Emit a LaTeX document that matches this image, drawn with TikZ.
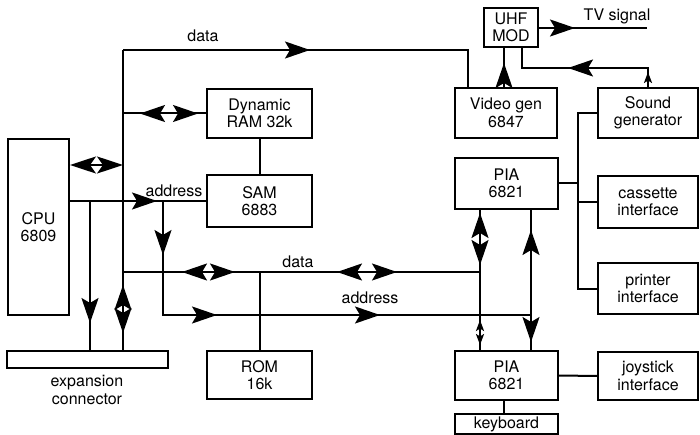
\documentclass[tikz,border=0pt]{standalone}
\usepackage{fontspec}
\setmainfont{TeX Gyre Heros}
\usetikzlibrary{arrows.meta,decorations.markings,calc}

\tikzset{
  BigTip/.tip={Stealth[length=25pt,width=17pt,inset=5pt]},
  CpuTip/.tip={Stealth[length=26pt,width=17pt,inset=6pt]},
  SmallTip/.tip={Stealth[length=11pt,width=8pt,inset=2.5pt]},
  blk/.style={draw, line width=2pt, inner sep=0pt, align=center,
    font=\fontsize{16}{17.5}\selectfont},
  lbl/.style={inner sep=0pt, font=\fontsize{16}{17.5}\selectfont},
  wire/.style={line width=2pt},
  fwd/.style={postaction={decorate,decoration={markings,
    mark=at position #1 with {\arrow{BigTip}}}}},
  rev/.style={postaction={decorate,decoration={markings,
    mark=at position #1 with {\arrowreversed{BigTip}}}}},
  sfwd/.style={postaction={decorate,decoration={markings,
    mark=at position #1 with {\arrow{SmallTip}}}}},
  srev/.style={postaction={decorate,decoration={markings,
    mark=at position #1 with {\arrowreversed{SmallTip}}}}},
}

\begin{document}
\begin{tikzpicture}[x=1pt,y=-1pt]
\useasboundingbox (0,0) rectangle (700,435);

% ---- blocks ----
\node[blk, minimum width=61pt,  minimum height=176pt] (cpu) at (38.5,227)  {CPU\\6809};
\node[blk, minimum width=105pt, minimum height=49pt]  (ram) at (259.5,113.5) {Dynamic\\RAM 32k};
\node[blk, minimum width=105pt, minimum height=52pt]  (sam) at (259.5,201)  {SAM\\6883};
\node[blk, minimum width=105pt, minimum height=48pt]  (rom) at (259.5,375)  {ROM\\16k};
\node[blk, minimum width=161pt, minimum height=17pt]  (exp) at (87.5,359.5) {};
\node[blk, minimum width=54pt,  minimum height=39pt]  (uhf) at (511,27.5)   {UHF\\MOD};
\node[blk, minimum width=102pt, minimum height=50pt]  (vid) at (506,113)    {Video gen\\6847};
\node[blk, minimum width=100pt, minimum height=50pt]  (snd) at (648,113)    {Sound\\generator};
\node[blk, minimum width=103pt, minimum height=51pt]  (pia1) at (506.5,183.5) {PIA\\6821};
\node[blk, minimum width=100pt, minimum height=52pt]  (cas) at (648,202)    {cassette\\interface};
\node[blk, minimum width=100pt, minimum height=51pt]  (prn) at (648,288.5)  {printer\\interface};
\node[blk, minimum width=103pt, minimum height=49pt]  (pia2) at (506.5,375.5) {PIA\\6821};
\node[blk, minimum width=100pt, minimum height=48pt]  (joy) at (648,376)    {joystick\\interface};
\node[blk, minimum width=103pt, minimum height=20pt]  (kbd) at (506.5,424)  {keyboard};

% ---- labels ----
\node[lbl, anchor=base] (l1) at (203,42)  {data};
\node[lbl, anchor=base] (l2) at (174,197) {address};
\node[lbl, anchor=base] (l3) at (298,267) {data};
\node[lbl, anchor=base] (l4) at (370,303) {address};
\node[lbl, anchor=base] (l5) at (617,21)  {TV signal};
\node[lbl, align=center] (l6) at (87,390) {expansion\\connector};

% ---- junction points ----
\coordinate (bt)   at (123,50);   % top of the CPU bus
\coordinate (c1)   at (123,165);  % CPU data tap
\coordinate (j90)  at (90,201);
\coordinate (j163) at (163,201);
\coordinate (ad2)  at (531,315);  % end of lower address bus
\coordinate (d0)   at (123,272);
\coordinate (d1)   at (480,272);  % end of lower data bus
\coordinate (vtop) at (468,88);
\coordinate (kx)   at (504,0);
\coordinate (rbx)  at (578,0);
\coordinate (ux)   at (522,68);
\coordinate (tv)   at (647,28);

% ---- CPU side ----
\draw[wire, fwd=187pt] (bt) -| (vtop);
\draw[wire, rev=235pt, fwd=283pt] (bt) -- (bt |- exp.north);
\draw[wire, {CpuTip}-{CpuTip}] (c1 -| cpu.east) -- (c1);
\draw[wire, rev=17pt, fwd=75pt] (bt |- ram.west) -- (ram.west);
\draw[wire, fwd=87pt] (cpu.east |- sam.west) -- (sam.west);
\draw[wire, fwd=122pt] (j90) -- (j90 |- exp.north);
\draw[wire, fwd=54pt, fwd=168pt, fwd=331pt] (j163) |- (ad2);
\draw[wire, rev=59pt, fwd=112pt, rev=214pt, fwd=274pt] (d0) -- (d1);
\draw[wire] (rom.north |- d0) -- (rom.north);
\draw[wire] (ram.south) -- (sam.north);

% ---- PIA buses ----
\draw[wire, rev=3pt, fwd=55pt, srev=110pt, sfwd=135pt] (pia1.south -| d1) -- (pia2.north -| d1);
\draw[wire, rev=20pt, fwd=132pt] (pia1.south -| ad2) -- (pia2.north -| ad2);

% ---- peripherals ----
\draw[wire] (snd.west) -- (snd.west -| rbx) -- (prn.west -| rbx) -- (prn.west);
\draw[wire] (pia1.east) -- (pia1.east -| rbx);
\draw[wire] (cas.west) -- (cas.west -| rbx);
\draw[wire] (pia2.east) -- (joy.west);
\draw[wire] (pia2.south -| kx) -- (kbd.north -| kx);

% ---- video / RF ----
\draw[wire, fwd=24pt] (vid.north -| kx) -- (uhf.south -| kx);
\draw[wire, sfwd=15pt, fwd=99pt] (snd.north) |- (ux) -- (ux |- uhf.south);
\draw[wire, fwd=36pt] (uhf.east |- tv) -- (tv);
\end{tikzpicture}
\end{document}
